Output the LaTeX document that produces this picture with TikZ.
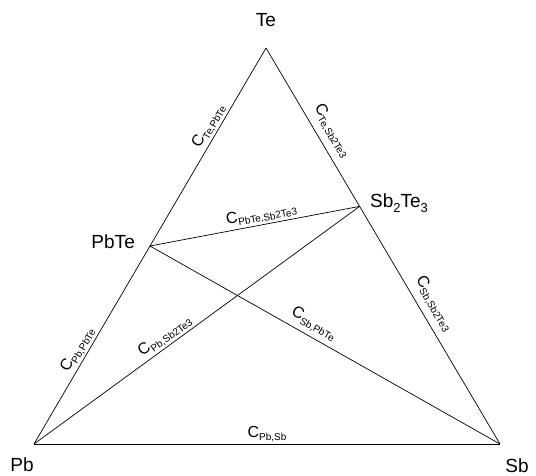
\documentclass[tikz,border=0pt]{standalone}
\usepackage{fontspec}
\setmainfont{Liberation Sans}
\usetikzlibrary{calc,positioning}
\newcommand{\conc}[1]{C\raisebox{-.4ex}{\fontsize{10}{10}\selectfont #1}}
\newcommand{\idx}[1]{\raisebox{-.45ex}{\fontsize{13}{13}\selectfont #1}}
\tikzset{
  fase/.style={
    font=\fontsize{19}{19}\selectfont,
    inner sep=1pt
  },
  linea/.style={
    line width=.7pt,
    black
  },
  etiq/.style={
    font=\fontsize{16}{16}\selectfont,
    sloped,
    inner sep=1.5pt
  }
}

\begin{document}
\begin{tikzpicture}[x=1pt,y=-1pt]
\useasboundingbox (0,0) rectangle (536,476);
% vertices of the diagram
\coordinate (pb) at (34,444);
\coordinate (sb) at (500,444);
\coordinate (te) at (266,48);
\coordinate (pbte) at ($(pb)!.5!(te)$);
\coordinate (sbte) at ($(sb)!.6!(te)$);
% phase names
\node[fase] (lte) at (266,20) {Te};
\node[fase, anchor=east] (lpbte) at (136,242) {PbTe};
\node[fase, anchor=west] (lsbte) at (369,203) {Sb\idx{2}Te\idx{3}};
\node[fase] (lpb) at (22,465) {Pb};
\node[fase] (lsb) at (517,466) {Sb};
% sides
\draw[linea] (pb) -- node[etiq, above, pos=.45] {\conc{Pb,PbTe}} (pbte);
\draw[linea] (pbte) -- node[etiq, above, pos=.58] {\conc{Te,PbTe}} (te);
\draw[linea] (te) -- node[etiq, above=5pt, pos=.57] {\conc{Te,Sb2Te3}} (sbte);
\draw[linea] (sbte) -- node[etiq, above=5pt, pos=.44] {\conc{Sb,Sb2Te3}} (sb);
\draw[linea] (pb) -- node[etiq, above, pos=.5] {\conc{Pb,Sb}} (sb);
% tie lines
\draw[linea] (pbte) -- node[etiq, above, pos=.54] {\conc{PbTe,Sb2Te3}} (sbte);
\draw[linea] (pb) -- node[etiq, above, pos=.42] {\conc{Pb,Sb2Te3}} (sbte);
\draw[linea] (pbte) -- node[etiq, above=3pt, pos=.45] {\conc{Sb,PbTe}} (sb);
\end{tikzpicture}
\end{document}
